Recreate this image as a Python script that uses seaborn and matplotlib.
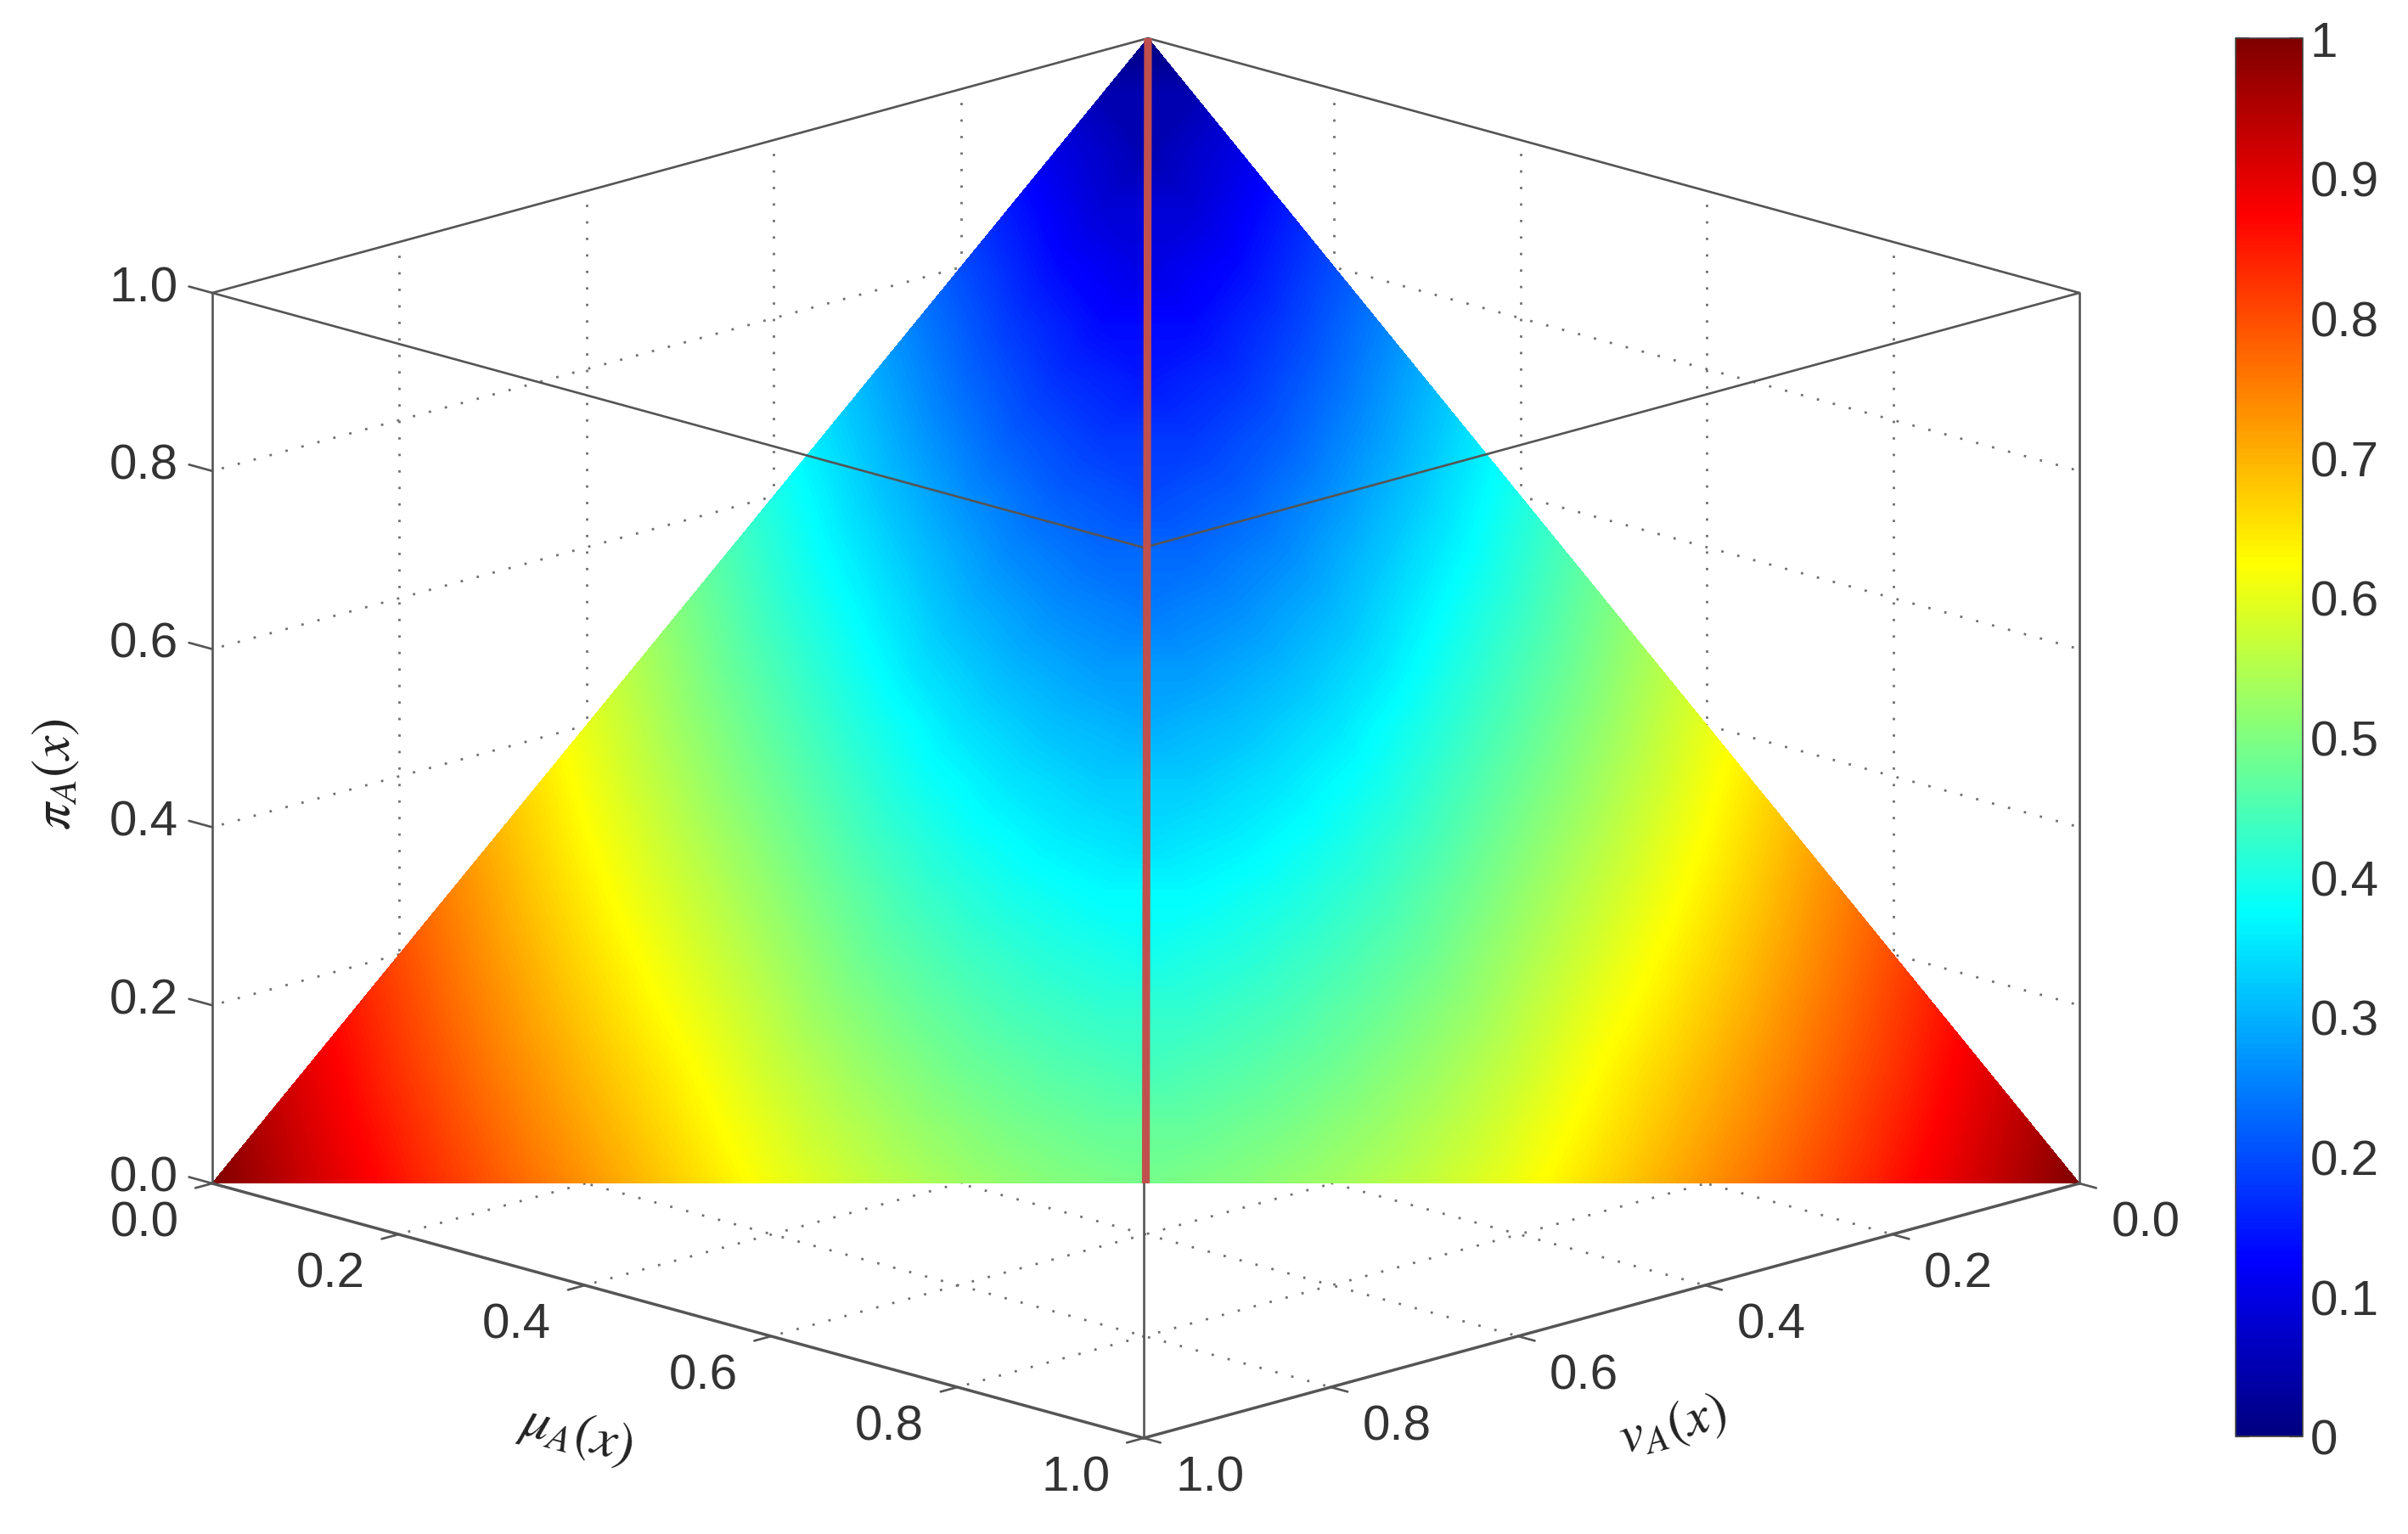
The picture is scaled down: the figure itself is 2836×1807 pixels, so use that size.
import numpy as np
import matplotlib
matplotlib.use('Agg')
import matplotlib.pyplot as plt
from matplotlib.cm import ScalarMappable
from matplotlib.colors import Normalize
import seaborn as sns

# values, one list per pi level (step 0.05)
# each list runs from the edge (mu=0) towards the mu=nu line, right half is the mirror
row_00 = [1.00, 0.925, 0.855, 0.79, 0.73, 0.67, 0.61, 0.565, 0.53, 0.505, 0.49]
row_01 = [0.95, 0.875, 0.806, 0.741, 0.681, 0.621, 0.566, 0.524, 0.493, 0.473]
row_02 = [0.90, 0.825, 0.756, 0.693, 0.634, 0.572, 0.522, 0.483, 0.457, 0.441]
row_03 = [0.85, 0.776, 0.707, 0.644, 0.585, 0.524, 0.479, 0.445, 0.424]
row_04 = [0.80, 0.726, 0.658, 0.596, 0.536, 0.478, 0.438, 0.409, 0.392]
row_05 = [0.75, 0.677, 0.609, 0.548, 0.488, 0.435, 0.398, 0.375]
row_06 = [0.70, 0.627, 0.56, 0.499, 0.439, 0.392, 0.36, 0.343]
row_07 = [0.65, 0.577, 0.51, 0.45, 0.392, 0.352, 0.326]
row_08 = [0.60, 0.527, 0.462, 0.402, 0.348, 0.313, 0.294]
row_09 = [0.55, 0.477, 0.414, 0.351, 0.305, 0.277]
row_10 = [0.50, 0.428, 0.365, 0.305, 0.265, 0.245]
row_11 = [0.45, 0.378, 0.317, 0.261, 0.229]
row_12 = [0.40, 0.329, 0.268, 0.219, 0.196]
row_13 = [0.35, 0.28, 0.219, 0.18]
row_14 = [0.30, 0.231, 0.174, 0.147]
row_15 = [0.25, 0.183, 0.133]
row_16 = [0.20, 0.134, 0.098]
row_17 = [0.15, 0.087]
row_18 = [0.10, 0.049]
row_19 = [0.05]
row_20 = [0.00]
rows = [row_00, row_01, row_02, row_03, row_04, row_05, row_06, row_07, row_08, row_09, row_10,
        row_11, row_12, row_13, row_14, row_15, row_16, row_17, row_18, row_19, row_20]

box_ticks = [0.0, 0.2, 0.4, 0.6, 0.8, 1.0]
box_tick_labels = ['0.0', '0.2', '0.4', '0.6', '0.8', '1.0']
cbar_ticks = [0, 0.1, 0.2, 0.3, 0.4, 0.5, 0.6, 0.7, 0.8, 0.9, 1]
cbar_labels = ['0', '0.1', '0.2', '0.3', '0.4', '0.5', '0.6', '0.7', '0.8', '0.9', '1']

# matlab jet, equal steps of 0.125
jet_colors = [(0, 0, 0.5), (0, 0, 1), (0, 0.5, 1), (0, 1, 1), (0.5, 1, 0.5),
              (1, 1, 0), (1, 0.5, 0), (1, 0, 0), (0.5, 0, 0)]

sns.set_theme(style='white')
plt.rcParams['font.family'] = ['Liberation Sans', 'DejaVu Sans']
plt.rcParams['mathtext.fontset'] = 'stix'

W, H = 2836, 1808
TXT = '#333333'
EDGE = '#555555'
GRID = '#707070'
FS = 42

fig = plt.figure(figsize=(W / 100, H / 100), dpi=100, facecolor='white')
ax = fig.add_axes([0, 0, 1, 1])
ax.set_xlim(0, W)
ax.set_ylim(H, 0)
ax.axis('off')


# matlab style box view, mu/nu/pi -> picture position
def proj(mu, nu, pi):
    mu, nu, pi = np.asarray(mu, float), np.asarray(nu, float), np.asarray(pi, float)
    return 1352 + 1097 * mu - 1102 * nu, 1095 + 300 * mu + 300 * nu - 1049 * pi


def line3(a, b, **kw):
    x, y = proj([a[0], b[0]], [a[1], b[1]], [a[2], b[2]])
    sns.lineplot(x=x, y=y, sort=False, estimator=None, ax=ax, legend=False, **kw)


# dotted grid on floor and back walls
dots = dict(color=GRID, lw=2.0, linestyle=(0, (1.0, 6.0)), zorder=1)
for t in box_ticks[1:-1]:
    line3((t, 0, 0), (t, 1, 0), **dots)
    line3((0, t, 0), (1, t, 0), **dots)
    line3((t, 0, 0), (t, 0, 1), **dots)
    line3((0, t, 0), (0, t, 1), **dots)
    line3((0, 0, t), (1, 0, t), **dots)
    line3((0, 0, t), (0, 1, t), **dots)

# surface
n = len(rows) - 1
index = {}
xs, ys, vals = [], [], []
for i in range(n + 1):
    for j in range(n + 1 - i):
        k = n - i - j
        px, py = proj(i / n, j / n, k / n)
        index[(i, j)] = len(xs)
        xs.append(float(px))
        ys.append(float(py))
        vals.append(rows[k][min(i, j)])
tris = []
for i in range(n):
    for j in range(n - i):
        tris.append([index[(i, j)], index[(i + 1, j)], index[(i, j + 1)]])
        if i + j < n - 1:
            tris.append([index[(i + 1, j)], index[(i + 1, j + 1)], index[(i, j + 1)]])

cmap = sns.blend_palette(jet_colors, n_colors=256, as_cmap=True)
ax.tricontourf(xs, ys, tris, vals, levels=np.linspace(0, 1, 257), cmap=cmap, vmin=0, vmax=1,
               zorder=2, antialiased=False)

# box outline
edge = dict(color=EDGE, lw=1.9, zorder=3)
front = dict(color=EDGE, lw=2.5, zorder=3)
line3((0, 1, 0), (0, 1, 1), **edge)
line3((1, 0, 0), (1, 0, 1), **edge)
line3((1, 1, 0), (1, 1, 1), **edge)
line3((0, 1, 0), (1, 1, 0), **front)
line3((1, 0, 0), (1, 1, 0), **front)
line3((0, 1, 1), (1, 1, 1), **edge)
line3((1, 0, 1), (1, 1, 1), **edge)
line3((0, 1, 1), (0, 0, 1), **edge)
line3((1, 0, 1), (0, 0, 1), **edge)

# red line mu = nu
line3((0, 0, 1), (0.5, 0.5, 0), color='#C0504D', lw=6.6, zorder=4, solid_capstyle='butt')

# ticks and labels
tick = dict(color=EDGE, lw=1.9, zorder=3)
for t, lab in zip(box_ticks, box_tick_labels):
    line3((-0.025, 1, t), (0, 1, t), **tick)
    line3((t, 1, 0), (t, 1.018, 0), **tick)
    line3((1, t, 0), (1.018, t, 0), **tick)

    px, py = proj(0, 1, t)
    ax.text(px - 40, py - 6, lab, ha='right', va='center', fontsize=FS, color=TXT)
    px, py = proj(t, 1, 0)
    ax.text(px - 80, py + 47, lab, ha='center', va='center', fontsize=FS, color=TXT)
    px, py = proj(1, t, 0)
    ax.text(px + 78, py + 47, lab, ha='center', va='center', fontsize=FS, color=TXT)

ax.text(66, 912, r'$\pi_A(x)$', rotation=90, ha='center', va='center', fontsize=46, color='#222222')
ax.text(679, 1690, r'$\mu_A(x)$', rotation=-15, rotation_mode='anchor', ha='center', va='center',
        fontsize=46, color='#222222')
ax.text(1970, 1680, r'$v_A(x)$', rotation=15, rotation_mode='anchor', ha='center', va='center',
        fontsize=46, color='#222222')

# colorbar
cax = fig.add_axes([2633 / W, 1 - 1693 / H, 79 / W, 1647 / H])
cb = fig.colorbar(ScalarMappable(Normalize(0, 1), cmap), cax=cax)
cb.set_ticks(cbar_ticks)
cb.set_ticklabels(cbar_labels)
cb.outline.set_edgecolor('#444444')
cb.outline.set_linewidth(1.2)
cax.tick_params(axis='y', direction='in', left=True, right=True, length=11.5, width=1.6,
                color='#444444', labelsize=FS, labelcolor=TXT, pad=6)

fig.savefig('out.png', dpi=100)
